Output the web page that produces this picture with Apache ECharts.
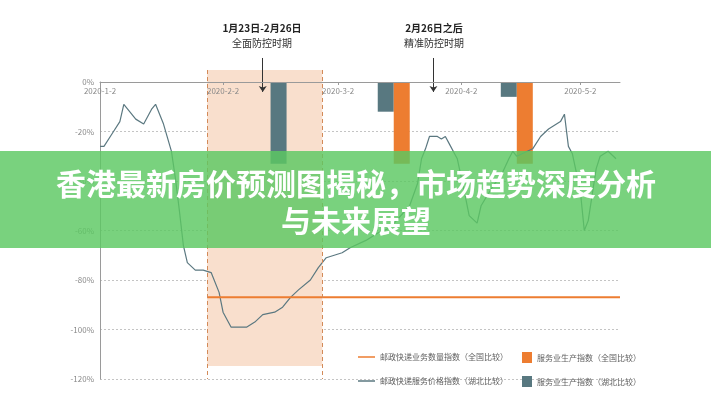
<!DOCTYPE html>
<html>
<head>
<meta charset="utf-8">
<script src="https://cdn.jsdelivr.net/npm/echarts@6/dist/echarts.min.js"></script>
<style>html,body{margin:0;padding:0;background:#fff;}#c{width:711px;height:400px;}</style>
</head>
<body>
<div id="c"></div>
<script>
// ---- data ----
const startDate = '2020-1-2';
const endDate = '2020-5-12';
const lineSamples = [
  ['2020-1-2',-26],['2020-1-3',-26],['2020-1-5',-21],['2020-1-7',-16],['2020-1-8',-9],
  ['2020-1-11',-15],['2020-1-13',-17],['2020-1-15',-11],['2020-1-16',-9],['2020-1-18',-17],
  ['2020-1-20',-28],['2020-1-21',-39],['2020-1-22',-52],['2020-1-23',-66],['2020-1-24',-73],
  ['2020-1-26',-76],['2020-1-28',-76],['2020-1-30',-77],['2020-2-1',-85],['2020-2-2',-93],
  ['2020-2-4',-99],['2020-2-8',-99],['2020-2-10',-97],['2020-2-12',-94],['2020-2-15',-93],
  ['2020-2-17',-91],['2020-2-19',-87],['2020-2-21',-84],['2020-2-24',-80],['2020-2-26',-75],
  ['2020-2-28',-71],['2020-3-1',-70],['2020-3-3',-69],['2020-3-5',-67],['2020-3-9',-64],
  ['2020-3-12',-61],['2020-3-15',-59],['2020-3-20',-50],['2020-3-22',-41],['2020-3-23',-31],
  ['2020-3-24',-27],['2020-3-25',-22],['2020-3-27',-22],['2020-3-28',-23],['2020-3-29',-22],
  ['2020-3-30',-25],['2020-4-1',-31],['2020-4-3',-46],['2020-4-4',-54],['2020-4-6',-57],
  ['2020-4-7',-50],['2020-4-10',-42],['2020-4-12',-38],['2020-4-14',-31],['2020-4-15',-28],
  ['2020-4-16',-30],['2020-4-20',-27],['2020-4-22',-22],['2020-4-24',-19],['2020-4-26',-17],
  ['2020-4-27',-16],['2020-4-28',-13],['2020-4-29',-26],['2020-4-30',-29],['2020-5-2',-44],
  ['2020-5-3',-60],['2020-5-4',-56],['2020-5-6',-35],['2020-5-7',-30],['2020-5-9',-28],
  ['2020-5-11',-31]
];
const barDates = ['2020-2-18','2020-3-16','2020-4-16'];
const darkBars = [-33, -12, -6];
const orangeBars = [null, -33, -33];
const levelDates = ['2020-1-29','2020-5-12'];
const levelValue = -87;
const shadeDates = ['2020-1-29','2020-2-27'];
const shadeValues = [4.85, -114.7];
const arrowDates = ['2020-2-12','2020-3-26'];
const arrowValues = [9.7, -4.0];
const names = ['邮政快递业务数量指数（全国比较）','服务业生产指数（全国比较）','邮政快递服务价格指数（湖北比较）','服务业生产指数（湖北比较）'];
const annot1 = ['1月23日-2月26日','全面防控时期'];
const annot2 = ['2月26日之后','精准防控时期'];
const bannerLines = ['香港最新房价预测图揭秘，市场趋势深度分析','与未来展望'];

// ---- build ----
function fmt(d){return d.getUTCFullYear()+'-'+(d.getUTCMonth()+1)+'-'+d.getUTCDate();}
function parse(s){const p=s.split('-').map(Number);return new Date(Date.UTC(p[0],p[1]-1,p[2]));}
const categories=[];
for(let d=parse(startDate); d<=parse(endDate); d=new Date(d.getTime()+86400000)) categories.push(fmt(d));
function toSeries(pairs){const m={};pairs.forEach(p=>m[p[0]]=p[1]);return categories.map(c=>(c in m)?m[c]:null);}
const lineData = toSeries(lineSamples);
const darkData = toSeries(barDates.map((d,i)=>[d,darkBars[i]]));
const orangeData = toSeries(barDates.map((d,i)=>[d,orangeBars[i]]));
const levelData = toSeries(levelDates.map(d=>[d,levelValue]));
const showTick = (i,v)=>v.split('-')[2]==='2';

const chart = echarts.init(document.getElementById('c'));
const font = 'Noto Sans CJK SC';
const legendBase = {orient:'horizontal', padding:0, itemGap:0, textStyle:{fontSize:8,color:'#606060',fontFamily:font}, selectedMode:false};
chart.setOption({
  animation:false,
  textStyle:{fontFamily:font},
  grid:[{left:100,right:91,top:82,bottom:21},{left:100,right:91,top:10,bottom:21}],
  xAxis:[
    {type:'category',data:categories,boundaryGap:false,position:'top',gridIndex:0,z:10,
     axisLine:{lineStyle:{color:'#9a9a9a',width:1}},
     axisTick:{inside:true,length:3,interval:showTick,lineStyle:{color:'#9a9a9a'}},
     axisLabel:{inside:true,interval:showTick,color:'#8a8a8a',fontSize:8,margin:5},
     splitLine:{show:false}},
    {type:'category',data:categories,boundaryGap:false,gridIndex:1,show:false}
  ],
  yAxis:[
    {type:'value',min:-120,max:0,interval:20,gridIndex:0,
     axisLine:{show:true,lineStyle:{color:'#9a9a9a'}},axisTick:{show:false},
     axisLabel:{formatter:'{value}%',color:'#8a8a8a',fontSize:8,margin:6},
     splitLine:{lineStyle:{type:[2,2],color:'#c4c4c4'}}},
    {type:'value',min:-120,max:29.09,gridIndex:1,show:false,splitLine:{show:false}}
  ],
  legend:[
    Object.assign({},legendBase,{left:358,top:353,itemWidth:17,itemHeight:1.5,data:[{name:names[0],icon:'rect'}]}),
    Object.assign({},legendBase,{left:522,top:352,itemWidth:10,itemHeight:11,data:[{name:names[1],icon:'rect'}]}),
    Object.assign({},legendBase,{left:358,top:377,itemWidth:17,itemHeight:1.5,data:[{name:names[2],icon:'rect'}]}),
    Object.assign({},legendBase,{left:522,top:376,itemWidth:10,itemHeight:11,data:[{name:names[3],icon:'rect'}]})
  ],
  series:[
    {type:'line',xAxisIndex:1,yAxisIndex:1,data:[],z:1,silent:true,
     markArea:{silent:true,itemStyle:{color:'#f9dfcd'},
       data:[[{xAxis:shadeDates[0],yAxis:shadeValues[0]},{xAxis:shadeDates[1],yAxis:shadeValues[1]}]]},
     markLine:{silent:true,symbol:'none',label:{show:false},lineStyle:{type:[4,3],color:'#d38a58',width:1},
       data:shadeDates.map(d=>[{coord:[d,shadeValues[0]]},{coord:[d,-120]}])}},
    {type:'line',xAxisIndex:1,yAxisIndex:1,data:[],z:5,silent:true,
     markLine:{silent:true,symbol:['none','arrow'],symbolSize:6,label:{show:false},lineStyle:{type:'solid',color:'#333',width:1},
       data:arrowDates.map(d=>[{coord:[d,arrowValues[0]]},{coord:[d,arrowValues[1]]}])}},
    {name:names[3],type:'bar',data:darkData,barWidth:16,barGap:'0%',itemStyle:{color:'#587880'},z:2},
    {name:names[1],type:'bar',data:orangeData,barWidth:16,barGap:'0%',itemStyle:{color:'#ed7d31'},z:2},
    {name:names[2],type:'line',data:lineData,connectNulls:true,symbol:'none',showSymbol:false,
     lineStyle:{color:'#5b7880',width:1.2},itemStyle:{color:'#5b7880'},z:3},
    {name:names[0],type:'line',data:levelData,connectNulls:true,symbol:'none',showSymbol:false,
     lineStyle:{color:'#ed7d31',width:2},itemStyle:{color:'#ed7d31'},z:3}
  ],
  graphic:[
    {type:'group',z:60,children:[
      {type:'text',x:262,y:28,style:{text:annot1[0],align:'center',verticalAlign:'middle',font:'bold 10px "Noto Sans CJK SC"',fill:'#222'}},
      {type:'text',x:262,y:43,style:{text:annot1[1],align:'center',verticalAlign:'middle',font:'10px "Noto Sans CJK SC"',fill:'#333'}},
      {type:'text',x:434,y:28,style:{text:annot2[0],align:'center',verticalAlign:'middle',font:'bold 10px "Noto Sans CJK SC"',fill:'#222'}},
      {type:'text',x:434,y:43,style:{text:annot2[1],align:'center',verticalAlign:'middle',font:'10px "Noto Sans CJK SC"',fill:'#333'}},
      {type:'rect',z:100,shape:{x:0,y:151,width:711,height:97},style:{fill:'rgba(92,200,98,0.82)'}},
      {type:'text',z:101,x:356,y:184,style:{text:bannerLines[0],align:'center',verticalAlign:'middle',font:'bold 30px "Noto Sans CJK SC"',fill:'#fff',shadowColor:'rgba(0,0,0,0.2)',shadowBlur:2}},
      {type:'text',z:101,x:356,y:221,style:{text:bannerLines[1],align:'center',verticalAlign:'middle',font:'bold 30px "Noto Sans CJK SC"',fill:'#fff',shadowColor:'rgba(0,0,0,0.2)',shadowBlur:2}}
    ]}
  ]
});
</script>
</body>
</html>
